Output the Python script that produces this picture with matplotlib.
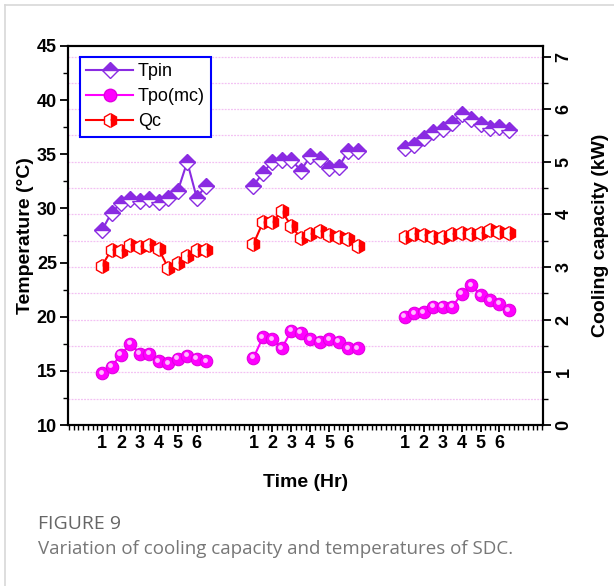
import numpy as np
import matplotlib
matplotlib.use("Agg")
import matplotlib.pyplot as plt
from matplotlib.lines import Line2D
from matplotlib.ticker import MultipleLocator, FixedLocator
import matplotlib.transforms as mtransforms

plt.rcParams["font.family"] = ["Liberation Sans", "DejaVu Sans"]

# half-hour readings, hours 1 .. 6.5, three test days
hours = [1, 1.5, 2, 2.5, 3, 3.5, 4, 4.5, 5, 5.5, 6, 6.5]
day_offsets = [0, 8, 16]
hour_labels = ["1", "2", "3", "4", "5", "6"]

tpin = [
    [28.0, 29.6, 30.5, 30.9, 30.7, 30.9, 30.6, 31.0, 31.6, 34.3, 31.0, 32.1],
    [32.1, 33.3, 34.3, 34.5, 34.5, 33.5, 34.8, 34.6, 33.7, 33.8, 35.3, 35.3],
    [35.6, 35.9, 36.5, 37.1, 37.3, 37.9, 38.7, 38.3, 37.8, 37.4, 37.5, 37.2],
]
tpo = [
    [14.8, 15.4, 16.5, 17.5, 16.6, 16.6, 15.9, 15.7, 16.1, 16.4, 16.1, 15.9],
    [16.2, 18.1, 17.9, 17.1, 18.7, 18.5, 17.9, 17.7, 17.9, 17.7, 17.1, 17.1],
    [20.0, 20.3, 20.4, 20.9, 20.9, 20.9, 22.1, 22.9, 22.0, 21.5, 21.2, 20.6],
]
qc = [
    [3.03, 3.33, 3.31, 3.42, 3.39, 3.42, 3.34, 2.98, 3.07, 3.21, 3.33, 3.33],
    [3.44, 3.85, 3.85, 4.06, 3.78, 3.55, 3.63, 3.69, 3.60, 3.57, 3.54, 3.40],
    [3.57, 3.63, 3.61, 3.58, 3.58, 3.63, 3.64, 3.63, 3.64, 3.71, 3.66, 3.64],
]

C_TPIN = "#8a2be2"
C_TPO = "#ff00ff"
C_QC = "#ff0000"

T_LIM = (10, 45)
Q_LIM = (0, 7.2)

fig = plt.figure(figsize=(6.14, 5.86), dpi=100)
ax = fig.add_axes([68 / 614, 1 - 425 / 586, 475 / 614, 379 / 586])
ax2 = ax.twinx()

# card border of the web page
fig.add_artist(Line2D([5 / 614, 1], [1 - 5 / 586, 1 - 5 / 586], color="#d8d8d8", lw=1.2))
fig.add_artist(Line2D([5 / 614, 5 / 614], [0, 1 - 5 / 586], color="#d8d8d8", lw=1.2))

# pink grid follows the right axis (0.5 kW steps)
for kw in np.arange(0.5, 7.01, 0.5):
    t = T_LIM[0] + kw * (T_LIM[1] - T_LIM[0]) / (Q_LIM[1] - Q_LIM[0])
    ax.axhline(t, color="#f3c0f3", lw=0.9, ls=(0, (1.5, 1)), zorder=0)

hl = mtransforms.offset_copy(ax.transData, fig=fig, x=-1.5, y=1.5, units="dots")

for k, off in enumerate(day_offsets):
    x = np.array(hours) + off
    ax.plot(x, tpin[k], color=C_TPIN, lw=1.5, marker="D", ms=8.5,
            fillstyle="top", markerfacecoloralt="white", mec=C_TPIN, mew=1.0, zorder=3)
    ax.plot(x, tpo[k], color=C_TPO, lw=1.5, marker="o", ms=9,
            mfc=C_TPO, mec="#e000e0", mew=0.8, zorder=3)
    ax.plot(x, tpo[k], ls="none", marker="o", ms=3.5, mfc="#ffb8ff", mec="none",
            transform=hl, zorder=4)
    ax2.plot(x, qc[k], color=C_QC, lw=1.5, marker="h", ms=10,
             fillstyle="right", markerfacecoloralt="white", mec=C_QC, mew=1.0, zorder=3)

ax.set_xlim(-0.8, 24.3)
ax.set_ylim(*T_LIM)
ax2.set_ylim(*Q_LIM)

major_x = [h + off for off in day_offsets for h in range(1, 7)]
ax.xaxis.set_major_locator(FixedLocator(major_x))
ax.set_xticklabels(hour_labels * 3)
ax.xaxis.set_minor_locator(MultipleLocator(0.25))

ax.yaxis.set_major_locator(MultipleLocator(5))
ax.yaxis.set_minor_locator(MultipleLocator(2.5))
ax2.yaxis.set_major_locator(MultipleLocator(1))
ax2.yaxis.set_minor_locator(MultipleLocator(0.5))

for a in (ax, ax2):
    for s in a.spines.values():
        s.set_linewidth(1.5)
ax.tick_params(axis="both", which="major", direction="out", length=6, width=1.3,
               labelsize=13, pad=2)
ax.tick_params(axis="both", which="minor", direction="out", length=3.5, width=1.0)
ax.tick_params(axis="x", which="major", length=5)
ax2.tick_params(axis="y", which="major", direction="out", length=6, width=1.3,
                labelsize=13, pad=3, labelrotation=90)
ax2.tick_params(axis="y", which="minor", direction="out", length=3.5, width=1.0)
for lab in ax.get_xticklabels() + ax.get_yticklabels() + ax2.get_yticklabels():
    lab.set_fontweight("bold")
for lab in ax2.get_yticklabels():
    lab.set_va("center")

ax.set_xlabel("Time (Hr)", fontsize=14, fontweight="bold", labelpad=16)
ax.set_ylabel("Temperature (°C)", fontsize=14, fontweight="bold", labelpad=2)
ax2.set_ylabel("Cooling capacity (kW)", fontsize=14, fontweight="bold", labelpad=14)

h_tpin = Line2D([], [], color=C_TPIN, lw=1.5, marker="D", ms=8.5, fillstyle="top",
                markerfacecoloralt="white", mec=C_TPIN)
h_tpo = Line2D([], [], color=C_TPO, lw=1.5, marker="o", ms=9, mfc=C_TPO, mec="#e000e0")
h_qc = Line2D([], [], color=C_QC, lw=1.5, marker="h", ms=10, fillstyle="right",
              markerfacecoloralt="white", mec=C_QC)
leg = ax2.legend([h_tpin, h_tpo, h_qc], ["Tpin", "Tpo(mc)", "Qc"],
                 loc="upper left", bbox_to_anchor=(0.025, 0.972), borderaxespad=0,
                 fontsize=13, handlelength=2.6, handletextpad=0.25,
                 labelspacing=0.45, borderpad=0.35, fancybox=False, framealpha=1)
leg.get_frame().set_edgecolor("#0000ff")
leg.get_frame().set_linewidth(1.5)

fig.text(38 / 614, 1 - 524 / 586, "FIGURE 9", fontsize=14, color="#666666",
         family=["Open Sans", "DejaVu Sans"], va="center")
fig.text(38 / 614, 1 - 549 / 586, "Variation of cooling capacity and temperatures of SDC.",
         fontsize=13.5, color="#777777", family=["Open Sans", "DejaVu Sans"], va="center")

fig.savefig("out.png", dpi=100)
